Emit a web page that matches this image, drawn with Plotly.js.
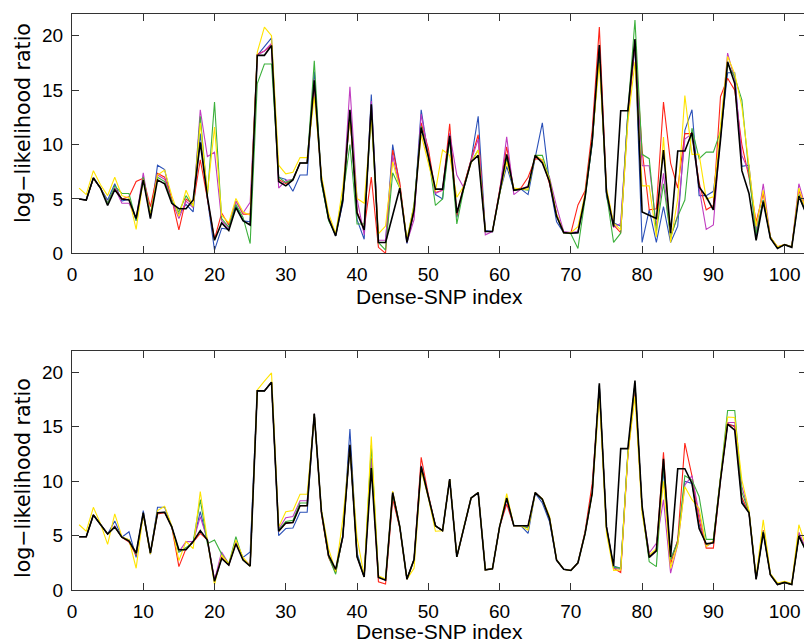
<!DOCTYPE html>
<html>
<head>
<meta charset="utf-8">
<script src="https://cdn.plot.ly/plotly-3.0.1.min.js"></script>
<style>
  html, body { margin: 0; padding: 0; background: #fff; overflow: hidden; }
  #chart { width: 810px; height: 644px; }
</style>
</head>
<body>
<div id="chart"></div>
<script>
// Dense-SNP index 1..103
const snpIndex = Array.from({length: 103}, (_, i) => i + 1);

// ---------- Top panel ----------
const topBlack = [5.0,4.9,6.95,6.0,4.4,5.85,5.0,4.9,3.2,6.75,
 3.2,6.75,6.4,4.6,4.1,4.1,4.9,10.2,5.2,1.2,
 2.8,2.1,4.2,3.0,2.6,18.2,18.2,19.1,6.6,6.2,
 6.75,8.3,8.3,15.9,6.75,3.2,1.6,4.9,13.2,3.7,
 2.15,13.7,1.0,1.0,3.5,6.0,1.0,4.0,11.55,8.9,
 5.9,5.9,10.8,3.7,6.1,8.4,9.0,2.0,2.0,5.5,
 9.1,5.8,5.9,6.1,9.0,8.3,6.6,3.4,1.9,1.85,
 1.9,5.2,10.4,19.15,5.65,2.45,13.1,13.1,19.7,3.8,
 3.5,3.2,9.5,1.85,9.4,9.4,11.1,6.1,5.2,4.0,
 10.4,17.6,15.6,7.6,5.5,1.2,4.75,1.4,0.45,0.8,
 0.55,5.25,3.7];
const topRed = [5.0,4.9,6.9,6.0,4.6,6.0,5.0,5.2,6.6,6.9,
 4.3,7.35,7.0,5.0,2.15,5.0,4.5,8.6,5.0,1.3,
 3.7,2.6,4.8,3.6,3.6,18.3,18.6,19.1,6.8,6.4,
 6.8,8.3,8.3,15.5,6.9,3.3,1.7,5.0,12.8,3.8,
 2.3,7.0,0.55,0.0,9.5,6.5,1.1,3.8,12.0,9.65,
 5.6,5.8,11.9,3.5,6.3,8.5,10.9,2.0,2.0,5.8,
 9.8,5.8,6.0,7.0,8.7,8.6,6.4,3.6,1.9,1.85,
 4.45,5.75,11.3,20.8,5.8,2.6,1.9,12.5,19.3,9.5,
 4.0,4.1,13.9,8.3,6.0,11.0,11.0,6.5,4.0,4.4,
 14.4,16.1,15.0,10.0,7.0,2.9,5.5,1.5,0.6,0.8,
 0.6,5.8,4.0];
const topYellow = [6.0,5.4,7.6,6.3,5.3,7.0,5.3,5.1,2.2,6.8,
 3.5,7.2,7.65,5.3,3.4,5.8,4.3,12.0,5.5,11.6,
 3.5,2.8,5.05,3.8,3.5,18.5,20.8,20.0,8.1,7.3,
 7.45,8.8,8.8,14.4,7.2,3.7,1.8,6.1,12.3,5.05,
 4.6,12.5,1.8,2.5,8.4,6.0,1.3,4.4,10.9,8.3,
 5.7,9.5,9.0,5.15,6.2,8.3,9.5,2.0,2.0,5.5,
 8.4,6.0,5.9,5.9,9.0,8.6,6.8,3.6,1.9,1.9,
 2.45,5.5,10.5,17.5,6.0,2.8,2.15,12.0,17.6,6.2,
 6.2,1.5,10.7,1.0,5.0,14.5,9.1,9.1,5.0,5.2,
 11.5,18.1,16.5,13.5,8.0,2.5,5.8,1.5,0.6,0.8,
 0.6,6.0,4.0];
const topGreen = [5.0,4.9,6.9,6.0,4.6,6.2,5.5,5.5,3.0,7.0,
 3.6,7.0,6.6,4.8,3.8,5.3,4.3,12.6,5.3,13.9,
 3.2,2.4,4.5,3.3,0.9,15.6,17.4,17.4,7.0,6.5,
 6.8,8.3,8.3,17.7,6.5,3.0,1.7,5.3,10.0,2.7,
 2.7,13.0,1.0,0.3,7.4,6.0,1.2,4.5,11.7,9.0,
 4.4,5.0,10.5,2.7,6.0,8.4,9.5,2.0,2.0,5.5,
 8.8,5.8,5.9,5.8,9.0,9.0,6.9,3.5,1.9,1.8,
 0.45,5.0,10.2,18.5,5.5,1.0,1.85,13.0,21.45,9.1,
 8.7,2.0,6.4,1.5,3.4,4.9,11.5,8.7,9.3,9.3,
 11.2,17.4,16.2,14.1,7.3,1.8,4.9,1.5,0.5,0.8,
 0.6,5.4,3.8];
const topBlue = [5.0,4.9,6.9,6.0,4.9,6.4,4.8,5.0,3.0,6.9,
 3.3,8.1,7.7,4.8,3.6,4.5,3.8,11.0,5.0,0.3,
 2.3,2.2,4.4,3.0,2.9,18.2,19.0,19.8,7.0,6.8,
 5.7,7.2,7.2,16.7,6.5,3.2,1.6,4.6,13.0,3.1,
 1.3,14.6,1.0,1.0,10.0,6.2,0.9,3.8,13.2,9.0,
 5.4,5.0,11.0,3.3,6.1,8.6,12.6,2.1,2.0,5.5,
 8.0,5.8,5.9,5.4,8.8,12.0,6.5,2.9,1.9,1.85,
 1.9,5.3,10.0,18.8,5.2,2.8,2.5,12.8,19.0,1.0,
 4.0,1.0,4.3,1.0,2.5,11.3,13.2,5.3,5.3,5.7,
 10.6,16.6,16.6,8.0,8.1,1.6,4.9,1.4,0.5,0.8,
 0.6,5.3,3.7];
const topMagenta = [5.0,4.9,6.9,6.0,4.7,6.0,4.6,4.6,3.2,7.4,
 3.4,7.2,6.8,4.8,3.2,4.8,4.2,13.2,8.9,9.3,
 3.0,2.3,4.8,3.7,4.7,18.2,18.6,19.3,6.0,6.7,
 6.8,8.3,8.3,16.0,6.8,3.3,1.7,5.0,15.3,5.0,
 1.7,14.0,1.2,1.2,9.0,6.0,1.0,3.1,12.8,9.0,
 5.5,5.8,11.0,7.2,6.0,8.5,10.5,1.7,2.0,5.6,
 10.7,5.4,5.9,6.2,8.9,8.5,7.0,4.3,2.0,1.9,
 2.0,5.4,10.5,19.0,5.6,2.4,2.75,12.8,19.5,8.05,
 8.05,2.5,7.35,1.5,3.5,10.5,11.0,6.0,2.2,2.6,
 11.0,18.4,16.0,9.0,7.5,2.0,6.4,1.5,0.5,0.8,
 0.6,6.4,4.1];

// ---------- Bottom panel ----------
const botBlack = [4.9,4.9,6.9,6.0,5.15,5.8,4.85,4.5,3.4,7.1,
 3.4,7.1,7.15,5.8,3.7,3.7,4.45,5.45,4.6,0.8,
 2.9,2.3,4.25,2.75,2.2,18.3,18.3,19.1,5.4,6.15,
 6.2,7.75,7.75,16.2,7.2,3.2,1.9,4.9,13.35,3.05,
 1.2,11.2,1.15,0.9,8.95,5.8,1.0,2.8,11.35,8.6,
 5.9,5.45,10.2,3.05,5.8,8.45,8.95,1.85,1.95,5.8,
 8.45,5.9,5.9,5.9,8.95,8.35,6.6,2.75,1.9,1.8,
 2.5,5.2,8.9,19.0,5.8,2.2,13.0,13.0,19.25,7.7,
 3.0,3.6,12.05,3.05,11.15,11.15,9.8,5.65,4.25,4.35,
 10.1,15.25,14.7,8.0,7.1,1.0,5.3,1.4,0.5,0.7,
 0.5,4.95,3.6];
const botYellow = [6.0,5.4,7.6,6.1,4.2,7.0,4.9,4.6,2.0,7.0,
 3.3,7.3,7.7,5.9,2.7,4.45,3.8,9.05,4.6,0.5,
 3.2,2.4,4.6,3.0,2.2,18.4,19.2,19.95,5.8,7.2,
 7.3,8.8,8.8,16.0,7.4,3.8,1.7,6.5,13.0,4.8,
 1.3,14.1,1.3,1.0,9.1,5.8,1.0,2.0,11.0,8.5,
 5.4,5.45,10.2,3.05,5.8,8.45,8.95,1.85,1.95,5.8,
 8.85,5.9,5.9,5.5,8.9,8.4,6.8,2.8,1.9,1.8,
 2.5,5.2,8.9,17.8,5.2,1.8,1.85,12.4,17.8,7.0,
 3.2,3.8,10.0,2.0,4.2,9.5,8.3,7.5,4.0,4.5,
 10.3,15.9,15.85,10.1,7.3,1.2,6.45,1.5,0.65,0.8,
 0.6,6.0,4.0];
const botRed = [4.9,4.9,6.9,6.0,5.15,5.8,4.85,4.4,3.2,7.0,
 3.4,7.0,7.1,5.8,2.15,3.8,4.4,5.2,4.6,0.9,
 3.0,2.3,4.3,2.8,2.2,18.3,18.3,19.1,5.4,6.15,
 6.2,7.75,7.75,16.2,7.0,3.0,1.6,4.9,13.2,3.1,
 1.2,12.1,0.75,0.55,8.35,5.7,1.0,2.8,12.2,8.8,
 5.9,5.45,10.2,3.05,5.8,8.45,8.95,1.85,1.95,5.8,
 7.9,5.9,5.9,5.9,8.95,8.35,6.6,2.75,1.9,1.8,
 2.5,5.4,9.8,18.5,5.8,2.0,1.6,12.3,18.55,7.5,
 3.0,3.6,12.65,2.4,4.6,13.5,10.5,6.5,3.85,3.85,
 10.1,15.3,15.0,8.5,7.1,1.0,5.5,1.4,0.5,0.7,
 0.5,5.0,3.7];
const botGreen = [4.9,4.9,6.9,6.0,5.15,5.8,4.85,4.6,3.3,7.0,
 3.4,7.1,7.15,5.8,3.5,3.9,4.4,8.3,4.25,4.6,
 3.3,2.4,4.9,2.8,2.2,18.3,18.3,19.1,5.5,6.3,
 6.4,8.0,8.0,16.2,7.2,3.1,1.45,5.0,13.2,3.2,
 1.2,13.3,1.2,1.0,8.9,5.8,1.0,2.8,11.3,8.6,
 5.9,5.45,10.2,3.05,5.8,8.45,8.95,1.85,1.95,5.8,
 8.5,5.9,5.9,5.7,8.95,8.3,6.6,2.75,1.9,1.8,
 2.5,5.2,8.9,18.8,5.7,2.1,2.0,12.6,19.0,7.5,
 2.6,2.15,11.5,2.8,4.4,10.5,10.1,8.6,4.65,4.65,
 10.4,16.5,16.5,9.0,7.2,1.0,5.4,1.4,0.5,0.7,
 0.5,5.0,3.6];
const botBlue = [4.9,4.9,6.9,6.0,5.15,6.35,4.85,5.35,3.0,7.3,
 3.3,7.6,7.6,5.8,3.5,3.8,4.4,7.2,4.5,0.8,
 2.9,2.3,4.4,3.0,3.5,18.3,18.3,19.1,5.0,5.65,
 5.7,7.15,7.15,16.2,7.2,3.1,1.7,4.8,14.8,3.4,
 1.2,12.0,1.2,0.9,9.0,5.8,1.0,2.8,11.4,8.6,
 5.9,5.45,10.2,3.05,5.8,8.45,8.95,1.85,1.95,5.8,
 8.4,5.9,5.9,5.2,8.9,8.0,6.3,2.75,1.9,1.8,
 2.5,5.2,9.0,18.8,5.8,2.2,2.0,12.5,19.0,7.5,
 3.1,3.7,11.0,2.8,4.5,10.0,9.8,6.0,4.1,4.4,
 10.2,15.2,15.1,8.2,7.1,1.0,5.3,1.4,0.5,0.7,
 0.5,5.0,3.6];
const botMagenta = [4.9,4.9,6.9,6.0,5.15,5.9,4.85,4.6,3.3,7.0,
 3.4,7.1,7.15,5.8,3.5,4.45,4.45,6.75,4.6,0.9,
 3.5,2.4,4.4,2.9,2.3,18.3,18.3,19.1,5.6,6.65,
 6.75,8.2,8.2,16.2,7.2,3.2,1.8,4.9,13.3,3.1,
 1.2,12.0,1.2,0.9,9.0,5.8,1.0,2.8,11.4,8.6,
 5.9,5.45,10.2,3.05,5.8,8.45,8.95,1.85,1.95,5.8,
 8.3,5.9,5.9,5.8,8.95,8.3,6.6,2.75,1.9,1.8,
 2.5,5.2,9.0,18.8,5.8,2.0,1.9,12.5,19.0,7.5,
 3.4,4.3,8.3,1.55,4.2,9.65,10.5,7.0,4.0,4.4,
 10.2,15.4,15.4,9.5,7.2,1.0,5.4,1.4,0.55,0.75,
 0.55,5.3,3.8];

// tick labels
const xTicks = [0,10,20,30,40,50,60,70,80,90,100];
const yTicks = [0,5,10,15,20];
const xTitle = 'Dense-SNP index';
const yTitle = 'log\u2212likelihood ratio';

const COLORS = {
  blue: '#2a50b8', red: '#ff2418', magenta: '#c03cc0',
  green: '#3cb03c', yellow: '#ffe400', black: '#000000'
};

function panel(series, xa, ya) {
  const order = [['blue', series.blue], ['red', series.red], ['magenta', series.magenta],
                 ['green', series.green], ['yellow', series.yellow], ['black', series.black]];
  return order.map(([name, vals]) => ({
    type: 'scatter', mode: 'lines', x: snpIndex, y: vals,
    xaxis: xa, yaxis: ya, name: name, showlegend: false, hoverinfo: 'skip',
    line: {color: COLORS[name], width: name === 'black' ? 1.6 : 1.1}
  }));
}

const data = [
  ...panel({black: topBlack, red: topRed, yellow: topYellow, green: topGreen, blue: topBlue, magenta: topMagenta}, 'x', 'y'),
  ...panel({black: botBlack, red: botRed, yellow: botYellow, green: botGreen, blue: botBlue, magenta: botMagenta}, 'x2', 'y2')
];

const tickFont = {family: 'Liberation Sans, Arial, sans-serif', size: 19, color: '#000'};
function xAxis(anchor) {
  return {
    anchor: anchor, domain: [0, 1], range: [0, 103], tickmode: 'array', tickvals: xTicks,
    ticktext: xTicks.map(String),
    ticks: 'inside', ticklen: 7, tickwidth: 1, tickcolor: '#333',
    showline: true, linecolor: '#333', linewidth: 1, mirror: 'ticks',
    showgrid: false, zeroline: false, tickfont: tickFont, ticklabelstandoff: 4
  };
}
function yAxis(anchor, domain) {
  return {
    anchor: anchor, domain: domain, range: [0, 22], tickmode: 'array', tickvals: yTicks,
    ticktext: yTicks.map(String),
    ticks: 'inside', ticklen: 7, tickwidth: 1, tickcolor: '#333',
    showline: true, linecolor: '#333', linewidth: 1, mirror: 'ticks',
    showgrid: false, zeroline: false, tickfont: tickFont, ticklabelstandoff: 4
  };
}

const titleFont = {family: 'Liberation Sans, Arial, sans-serif', size: 21, color: '#000'};
const yTitleFont = {family: 'DejaVu Sans, sans-serif', size: 20.5, color: '#000'};

const layout = {
  width: 810, height: 644,
  margin: {l: 72, r: 4, t: 14, b: 54},
  paper_bgcolor: '#fff', plot_bgcolor: '#fff',
  showlegend: false,
  xaxis: xAxis('y'),
  yaxis: yAxis('x', [0.5845, 1]),
  xaxis2: xAxis('y2'),
  yaxis2: yAxis('x2', [0, 0.4155]),
  annotations: [
    {text: xTitle, xref: 'paper', yref: 'paper', x: 0.5, y: 0.5087, xanchor: 'center', yanchor: 'middle', showarrow: false, font: titleFont},
    {text: xTitle, xref: 'paper', yref: 'paper', x: 0.5, y: -0.0729, xanchor: 'center', yanchor: 'middle', showarrow: false, font: titleFont},
    {text: yTitle, xref: 'paper', yref: 'paper', x: -0.0668, y: 0.8108, xanchor: 'center', yanchor: 'middle', textangle: -90, showarrow: false, font: yTitleFont},
    {text: yTitle, xref: 'paper', yref: 'paper', x: -0.0668, y: 0.1944, xanchor: 'center', yanchor: 'middle', textangle: -90, showarrow: false, font: yTitleFont}
  ]
};

Plotly.newPlot('chart', data, layout, {staticPlot: true, displayModeBar: false});
</script>
</body>
</html>
